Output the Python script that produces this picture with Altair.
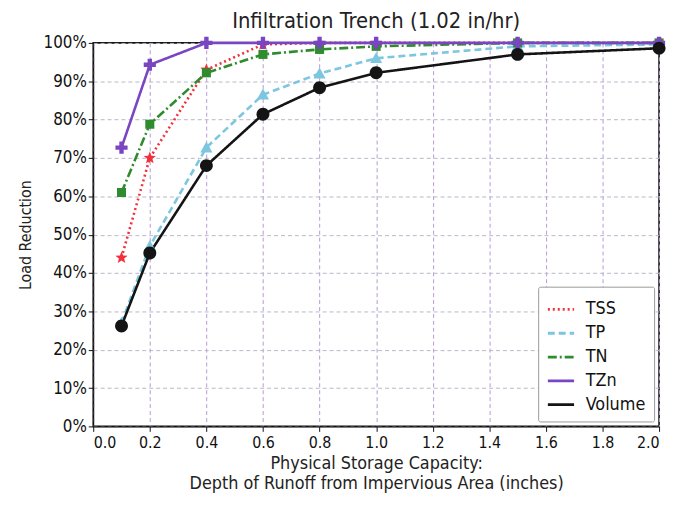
import math
import altair as alt
import pandas as pd

# ---- data ----
x_vals = [0.1, 0.2, 0.4, 0.6, 0.8, 1.0, 1.5, 2.0]
series_names = ["TSS", "TP", "TN", "TZn", "Volume"]
tss = [44, 70, 93, 99.6, 100, 100, 100, 100]
tp = [27, 47, 72.7, 86.5, 92, 96, 99.1, 99.6]
tn = [61, 78.8, 92.2, 97, 98.3, 99.1, 100, 100]
tzn = [72.7, 94.3, 100, 100, 100, 100, 100, 100]
volume = [26.2, 45.2, 68, 81.4, 88.3, 92.2, 97, 98.6]

colors = ["#f2303c", "#7cc6e0", "#2e8b2e", "#7a45c2", "#141414"]
dashes = [[2, 3], [7, 4], [9, 3, 2, 3], [1, 0], [1, 0]]

rows = []
for name, vals in zip(series_names, [tss, tp, tn, tzn, volume]):
    for xv, yv in zip(x_vals, vals):
        rows.append({"x": xv, "y": yv / 100.0, "series": name})
df = pd.DataFrame(rows)

# ---- marker paths (unit box [-1, 1]) ----
def star_path(r_out=1.0, r_in=0.42):
    pts = []
    for i in range(10):
        r = r_out if i % 2 == 0 else r_in
        a = -math.pi / 2 + i * math.pi / 5
        pts.append((r * math.cos(a), r * math.sin(a)))
    return "M" + "L".join(f"{px:.3f},{py:.3f}" for px, py in pts) + "Z"

tri_path = "M0,-1L1,0.8L-1,0.8Z"
sq_path = "M-0.8,-0.8H0.8V0.8H-0.8Z"
plus_path = "M-0.36,-1H0.36V-0.36H1V0.36H0.36V1H-0.36V0.36H-1V-0.36H-0.36Z"
circ_path = "M-1,0A1,1 0 1,0 1,0A1,1 0 1,0 -1,0Z"

markers = [star_path(), tri_path, sq_path, plus_path, circ_path]
marker_sizes = [170, 150, 130, 150, 170]

font = "DejaVu Sans Condensed, Liberation Sans Narrow, DejaVu Sans, sans-serif"

x_enc = alt.X("x:Q", scale=alt.Scale(domain=[0, 2.0], nice=False),
              axis=alt.Axis(values=[round(0.2 * i, 1) for i in range(11)], format=".1f",
                            labelOverlap=False,
                            title=["Physical Storage Capacity:",
                                   "Depth of Runoff  from Impervious Area (inches)"]))
y_enc = alt.Y("y:Q", scale=alt.Scale(domain=[0, 1.0], nice=False),
              axis=alt.Axis(values=[round(i / 10, 1) for i in range(11)], format=".0%",
                            labelOverlap=False, title="Load Reduction"))

base = alt.Chart(df).encode(x=x_enc, y=y_enc)

lines = base.mark_line(strokeWidth=2.6).encode(
    color=alt.Color("series:N", scale=alt.Scale(domain=series_names, range=colors),
                    legend=alt.Legend(title=None)),
    strokeDash=alt.StrokeDash("series:N", scale=alt.Scale(domain=series_names, range=dashes),
                              legend=alt.Legend(title=None)),
)

point_layers = []
for name, col, mk, sz in zip(series_names, colors, markers, marker_sizes):
    point_layers.append(
        base.transform_filter(alt.datum.series == name)
        .mark_point(filled=True, opacity=1, size=sz, shape=mk, color=col, strokeWidth=0.8)
    )

chart = (
    alt.layer(lines, *point_layers)
    .properties(
        width=664, height=487,
        autosize=alt.AutoSizeParams(type="fit", contains="padding"),
        title=alt.TitleParams("Infiltration Trench (1.02 in/hr)", fontSize=22,
                              fontWeight="normal", font=font, color="#222222", offset=1),
        padding={"left": 9, "top": 0, "right": 0, "bottom": 0},
    )
    .configure_view(stroke="#111111", strokeWidth=1.6)
    .configure_axis(
        labelFont=font, titleFont=font, labelFontSize=16, titleFontSize=18,
        labelColor="#111111", titleColor="#222222", titleFontWeight="normal",
        domainColor="#111111", tickColor="#111111", tickSize=5,
        gridDash=[4, 3], gridWidth=1,
    )
    .configure_axisX(gridColor="#b59ad6", labelPadding=3, titlePadding=4, titleLineHeight=21)
    .configure_axisY(gridColor="#b8b8c8", titlePadding=10, titleFontSize=16, labelFontSize=17)
    .configure_legend(
        orient="bottom-right", offset=5, fillColor="white", strokeColor="#999999",
        padding=8, cornerRadius=2, labelFont=font, labelFontSize=18, labelColor="#111111",
        symbolSize=700, symbolOpacity=1, symbolStrokeWidth=2.8, labelOffset=10,
        rowPadding=0, symbolType="stroke",
    )
)

chart.save("out.html", embed_options={"renderer": "svg", "actions": False})
